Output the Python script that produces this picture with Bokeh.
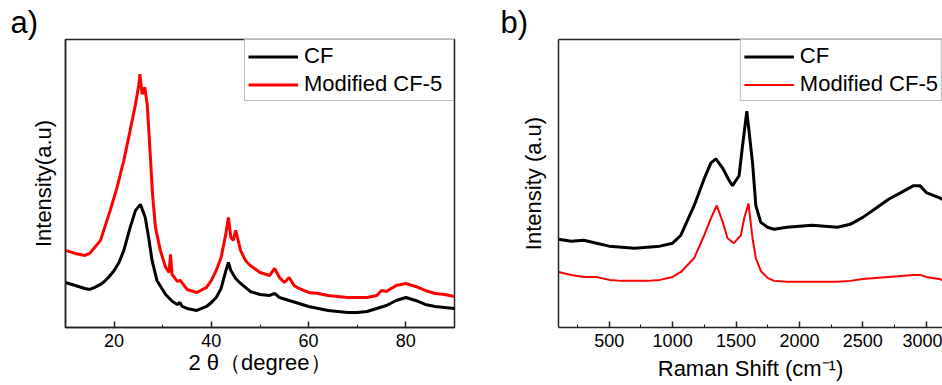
from bokeh.plotting import figure
from bokeh.layouts import row
from bokeh.models import (Range1d, SingleIntervalTicker, FixedTicker, Legend,
                          LegendItem, LinearAxis)
from bokeh.embed import file_html
from bokeh.resources import INLINE

FONT = "Liberation Sans"

# ---------------- a) XRD ----------------
xrd_theta_cf = [10, 12, 14, 15, 16, 17.2, 18, 19, 20, 21, 22, 23.3, 24.4, 25.4, 26.4,
                27.1, 27.8, 28.8, 30.6, 32, 33, 33.5, 34, 35, 37, 39, 40, 41, 42, 43,
                43.5, 44, 45, 46, 47, 48, 50, 52, 53, 54, 56, 58, 60, 62, 64, 66, 68,
                70, 72, 74, 76, 78, 80, 82, 84, 86, 88, 90]
xrd_cf = [45, 42, 39, 38, 40, 43, 46, 51, 57, 65, 77, 100, 117, 123, 110,
          90, 67, 47, 33, 26, 23, 25, 21, 19, 17, 21, 25, 30, 39, 57,
          65, 57, 49, 44, 40, 36, 33, 32, 34, 30, 27, 24, 21, 19, 17, 16, 15,
          15, 16, 19, 22, 27, 30, 27, 23, 21, 20, 19]

xrd_theta_mod = [10, 12, 14, 15, 16, 17.2, 19.2, 20.6, 22, 23.3, 24.4, 25.1, 25.3, 25.75,
                 26.3, 26.8, 27.1, 27.5, 27.9, 28.5, 29.5, 30.6, 31.3, 31.6, 31.9, 33,
                 33.6, 35, 37, 39, 40, 41, 42, 43, 43.5, 44, 44.5, 45, 46, 47, 48, 50,
                 52, 53, 54, 55, 56, 57, 58, 60, 62, 64, 66, 68, 70, 72, 74, 75, 76,
                 78, 80, 82, 84, 86, 88, 90]
xrd_mod = [77, 74, 72, 74, 80, 87, 117, 140, 167, 197, 223, 243, 253, 233,
           240, 223, 200, 167, 133, 100, 77, 60, 55, 73, 53, 46,
           47, 38, 35, 40, 47, 57, 70, 94, 110, 90, 87, 97, 77, 67, 62, 55,
           52, 59, 50, 45, 50, 42, 39, 35, 34, 32, 31, 30, 30, 30, 32, 37, 36,
           42, 44, 41, 37, 34, 33, 31]

xrd_ticks_interval = 20

# ---------------- b) Raman ----------------
raman_shift_cf = [100, 200, 300, 400, 500, 600, 700, 800, 900, 1000, 1065, 1170, 1249,
                  1302, 1341, 1393, 1446, 1472, 1524, 1551, 1585, 1630, 1656, 1695,
                  1748, 1800, 1900, 2000, 2100, 2200, 2300, 2400, 2500, 2600, 2700,
                  2800, 2900, 2950, 3000, 3100, 3150]
raman_cf = [89, 87, 88, 85, 82, 81, 80, 81, 82, 85, 93, 123, 150,
            166, 170, 161, 148, 143, 153, 183, 218, 166, 123, 106,
            101, 99, 101, 102, 103, 102, 101, 104, 111, 120, 129,
            136, 143, 143, 136, 131, 128]

raman_shift_mod = [100, 200, 300, 400, 500, 600, 700, 800, 900, 1000, 1065, 1170, 1249,
                   1302, 1348, 1393, 1433, 1483, 1538, 1564, 1598, 1630, 1656, 1695,
                   1748, 1800, 1900, 2000, 2100, 2200, 2300, 2400, 2500, 2600, 2700,
                   2800, 2900, 2950, 3000, 3100, 3150]
raman_mod = [56, 53, 51, 51, 48, 47, 47, 47, 48, 51, 56, 70, 93,
             110, 123, 107, 90, 85, 93, 110, 125, 90, 70, 57,
             50, 47, 46, 46, 46, 46, 46, 47, 49, 50, 51,
             52, 53, 53, 51, 49, 47]

raman_ticks_interval = 500

series_labels = ["CF", "Modified CF-5"]
series_colors = ["#000000", "#ff0000"]
panel_tags = ["a)", "b)"]


def style_common(p, xlabel, ylabel, ylabel_standoff, xlabel_standoff, interval):
    p.background_fill_color = "white"
    p.border_fill_color = "white"
    p.xgrid.visible = False
    p.ygrid.visible = False
    xa = p.xaxis[0]
    xa.ticker = SingleIntervalTicker(interval=interval, num_minor_ticks=2)
    xa.axis_label = xlabel
    xa.axis_label_text_font = FONT
    xa.axis_label_text_font_size = "22px"
    xa.axis_label_text_font_style = "normal"
    xa.axis_label_text_color = "black"
    xa.axis_label_standoff = xlabel_standoff
    xa.major_label_text_font = FONT
    xa.major_label_text_font_size = "18px"
    xa.major_label_text_color = "black"
    xa.major_label_standoff = 6
    xa.major_tick_in = 6
    xa.major_tick_out = 0
    xa.minor_tick_in = 3
    xa.minor_tick_out = 0
    xa.axis_line_width = 1.5
    xa.axis_line_color = "#222222"
    xa.major_tick_line_color = "#222222"
    xa.minor_tick_line_color = "#222222"
    xa.major_tick_line_width = 1.5
    ya = p.yaxis[0]
    ya.ticker = FixedTicker(ticks=[])
    ya.axis_label = ylabel
    ya.axis_label_text_font = FONT
    ya.axis_label_text_font_size = "22px"
    ya.axis_label_text_font_style = "normal"
    ya.axis_label_text_color = "black"
    ya.axis_label_standoff = ylabel_standoff
    ya.major_tick_in = 0
    ya.major_tick_out = 0
    ya.minor_tick_in = 0
    ya.minor_tick_out = 0
    ya.axis_line_width = 1.5
    ya.axis_line_color = "#222222"


def style_tag(p, text, offset):
    p.title.text = text
    p.title.align = "left"
    p.title.offset = offset
    p.title.standoff = 0
    p.title.text_font = FONT
    p.title.text_font_size = "31px"
    p.title.text_font_style = "normal"
    p.title.text_color = "black"


def add_legend(p, renderers, label_width):
    items = [LegendItem(label=lab, renderers=[r]) for lab, r in zip(series_labels, renderers)]
    lg = Legend(items=items, location="top_right", margin=0, padding=3, spacing=2,
                glyph_width=50, glyph_height=25, label_height=25, label_width=label_width,
                label_standoff=6, border_line_color="#777777", border_line_width=1,
                label_text_font=FONT, label_text_font_size="22px",
                label_text_color="black", background_fill_alpha=1.0)
    p.add_layout(lg)


# ----- panel a -----
pa = figure(width=470, height=384, output_backend="svg", toolbar_location=None,
            x_range=Range1d(10, 90), y_range=Range1d(0, 287.7),
            min_border_left=65, min_border_right=16, min_border_top=39,
            min_border_bottom=57)
style_common(pa, "2 θ（degree）", "Intensity(a.u)", 10, 0, xrd_ticks_interval)
pa.outline_line_color = "#222222"
pa.outline_line_width = 1.5
ra1 = pa.line(xrd_theta_cf, xrd_cf, color=series_colors[0], line_width=3)
ra2 = pa.line(xrd_theta_mod, xrd_mod, color=series_colors[1], line_width=3)
add_legend(pa, [ra1, ra2], 146)
style_tag(pa, panel_tags[0], -55)

# ----- panel b -----
pb = figure(width=472, height=384, output_backend="svg", toolbar_location=None,
            x_range=Range1d(100, 3128), y_range=Range1d(0, 290.3),
            min_border_left=88, min_border_right=0, min_border_top=38,
            min_border_bottom=56)
style_common(pb, "Raman Shift (cm⁻¹)", "Intensity (a.u)", 13, 6, raman_ticks_interval)
pb.outline_line_color = None
top_axis = LinearAxis(ticker=FixedTicker(ticks=[]), major_tick_in=0, major_tick_out=0,
                      minor_tick_in=0, minor_tick_out=0, axis_line_width=1.5,
                      axis_line_color="#222222", major_label_text_font_size="0px")
pb.add_layout(top_axis, "above")
rb1 = pb.line(raman_shift_cf, raman_cf, color=series_colors[0], line_width=3)
rb2 = pb.line(raman_shift_mod, raman_mod, color=series_colors[1], line_width=2)
add_legend(pb, [rb1, rb2], 138)
style_tag(pb, panel_tags[1], -58)

layout = row(pa, pb)
open("out.html", "w").write(file_html(layout, INLINE))
